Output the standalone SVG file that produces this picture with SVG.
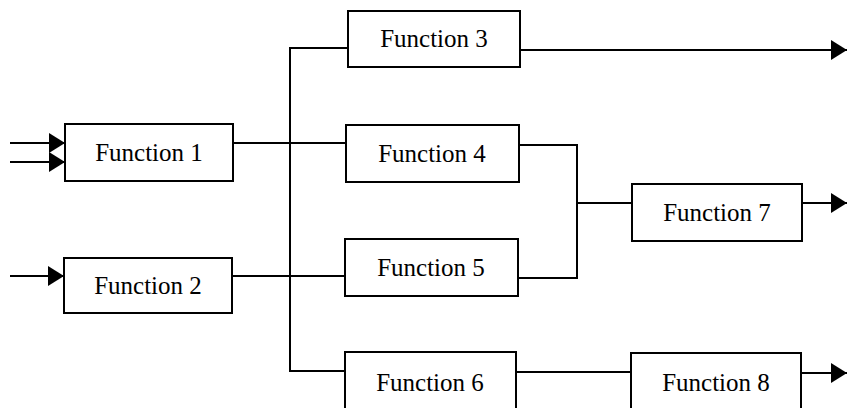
<svg xmlns="http://www.w3.org/2000/svg" width="848" height="408" viewBox="0 0 848 408">
<defs>
<marker id="arr" markerUnits="userSpaceOnUse" markerWidth="17" markerHeight="20" refX="16" refY="10" orient="auto">
<path d="M0,0 L16,10 L0,20 Z" fill="#000"/>
</marker>
<style>
.box{fill:#fff;stroke:#000;stroke-width:2}
.lbl{font-family:"Liberation Serif","Times New Roman",serif;font-size:25px;fill:#000;text-anchor:middle}
.ln{fill:none;stroke:#000;stroke-width:2}
.ar{marker-end:url(#arr)}
</style>
</defs>
<rect width="848" height="408" fill="#fff"/>
<g id="connectors">
<line class="ln ar" x1="10" y1="143" x2="65" y2="143"/>
<line class="ln ar" x1="10" y1="162" x2="65" y2="162"/>
<line class="ln ar" x1="10" y1="276" x2="64" y2="276"/>
<line class="ln" x1="233" y1="143" x2="346" y2="143"/>
<line class="ln" x1="232" y1="276" x2="345" y2="276"/>
<polyline class="ln" points="348,48 290,48 290,371 345,371"/>
<line class="ln ar" x1="520" y1="50" x2="847" y2="50"/>
<polyline class="ln" points="519,145 577,145 577,278 518,278"/>
<line class="ln" x1="577" y1="203" x2="632" y2="203"/>
<line class="ln ar" x1="802" y1="203" x2="847" y2="203"/>
<line class="ln" x1="516" y1="372" x2="631" y2="372"/>
<line class="ln ar" x1="801" y1="373" x2="847" y2="373"/>
</g>
<g id="f1"><rect class="box" x="65" y="124" width="168" height="57"/><text class="lbl" x="149" y="161">Function 1</text></g>
<g id="f2"><rect class="box" x="64" y="258" width="168" height="55"/><text class="lbl" x="148" y="294">Function 2</text></g>
<g id="f3"><rect class="box" x="348" y="11" width="172" height="56"/><text class="lbl" x="434" y="47">Function 3</text></g>
<g id="f4"><rect class="box" x="346" y="125" width="173" height="57"/><text class="lbl" x="432" y="162">Function 4</text></g>
<g id="f5"><rect class="box" x="345" y="239" width="173" height="57"/><text class="lbl" x="431" y="276">Function 5</text></g>
<g id="f6"><rect class="box" x="345" y="352" width="171" height="60"/><text class="lbl" x="430" y="391">Function 6</text></g>
<g id="f7"><rect class="box" x="632" y="184" width="170" height="57"/><text class="lbl" x="717" y="221">Function 7</text></g>
<g id="f8"><rect class="box" x="631" y="353" width="170" height="59"/><text class="lbl" x="716" y="391">Function 8</text></g>
</svg>
